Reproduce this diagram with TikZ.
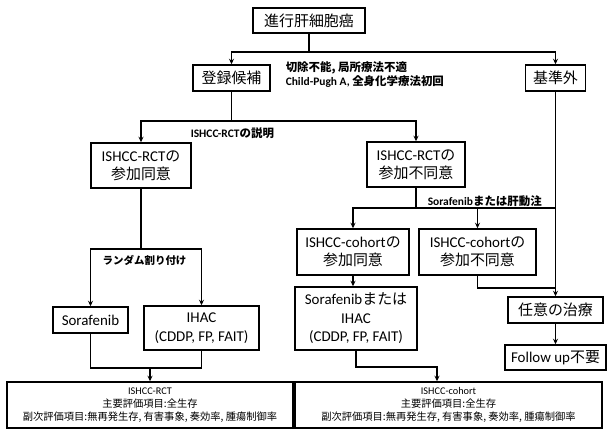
\documentclass[tikz,border=0pt]{standalone}
\usepackage{fontspec}
\setmainfont{Carlito}
\newfontfamily\jpf{Noto Sans CJK JP}
\newcommand\jp[1]{{\jpf #1}}
\usetikzlibrary{arrows.meta}
\begin{document}
\begin{tikzpicture}[x=1bp,y=-1bp,line width=1.5pt,
  box/.style={draw,align=center,inner sep=0pt,font=\fontsize{15}{18.5}\selectfont},
  lab/.style={font=\fontsize{11.5}{13}\selectfont\bfseries,anchor=west,inner sep=0pt},
  res/.style={draw,align=center,inner sep=0pt,font=\fontsize{10.3}{12.8}\selectfont},
  arr/.style={-{Stealth[length=5.5pt,width=5pt]}}
]
\useasboundingbox (0,0) rectangle (607,430);
% boxes
\node[box,minimum width=112bp,minimum height=25bp] (top) at (309,20.5) {\jp{進行肝細胞癌}};
\node[box,minimum width=77bp,minimum height=26bp] (reg) at (231.5,78) {\jp{登録候補}};
\node[box,minimum width=60bp,minimum height=26bp] (exc) at (555.5,78) {\jp{基準外}};
\node[box,minimum width=100bp,minimum height=45bp] (rcty) at (141,165.5) {ISHCC-RCT\jp{の}\\\jp{参加同意}};
\node[box,minimum width=98bp,minimum height=45bp] (rctn) at (416,164.5) {ISHCC-RCT\jp{の}\\\jp{参加不同意}};
\node[box,minimum width=112bp,minimum height=46bp] (cohy) at (353,252) {ISHCC-cohort\jp{の}\\\jp{参加同意}};
\node[box,minimum width=117bp,minimum height=46bp] (cohn) at (477.5,252) {ISHCC-cohort\jp{の}\\\jp{参加不同意}};
\node[box,minimum width=75bp,minimum height=26bp] (sor) at (90.5,320) {Sorafenib};
\node[box,minimum width=115bp,minimum height=44bp] (ihac) at (201.5,328) {IHAC\\(CDDP, FP, FAIT)};
\node[box,minimum width=122bp,minimum height=63bp] (sorihac) at (356,318.5) {Sorafenib\jp{または}\\IHAC\\(CDDP, FP, FAIT)};
\node[box,minimum width=95bp,minimum height=26bp] (nini) at (555.5,310) {\jp{任意の治療}};
\node[box,minimum width=101bp,minimum height=25bp] (fu) at (555.5,357.5) {Follow up\jp{不要}};
\node[res,minimum width=286bp,minimum height=46bp] (resl) at (150,405) {ISHCC-RCT\\\jp{主要評価項目:全生存}\\\jp{副次評価項目:無再発生存, 有害事象, 奏効率, 腫瘍制御率}};
\node[res,minimum width=307bp,minimum height=46bp] (resr) at (448.5,405) {ISHCC-cohort\\\jp{主要評価項目:全生存}\\\jp{副次評価項目:無再発生存, 有害事象, 奏効率, 腫瘍制御率}};
% labels
\node[lab] (l1) at (285,68) {\jp{切除不能, 局所療法不適}};
\node[lab] (l2) at (285,82) {Child-Pugh A, \jp{全身化学療法初回}};
\node[lab] (l3) at (190,133) {ISHCC-RCT\jp{の説明}};
\node[lab,font=\fontsize{10.5}{13}\selectfont\bfseries] (l4) at (102,260) {\jp{ランダム割り付け}};
\node[lab] (l5) at (427,201) {Sorafenib\jp{または肝動注}};
% junctions
\coordinate (j1) at (309,52);
\coordinate (j2) at (231.5,121);
\coordinate (j3) at (141,249);
\coordinate (j4) at (150,368);
\coordinate (j5) at (416,208);
\coordinate (j7) at (477.5,288);
\coordinate (j9) at (437,367);
% connectors
\draw (top) -- (j1);
\draw[arr] (j1) -| (reg);
\draw[arr] (j1) -| (exc);
\draw (reg) -- (j2);
\draw[arr] (j2) -| (rcty);
\draw[arr] (j2) -| (rctn);
\draw (rcty) -- (j3);
\draw[arr] (j3) -| (sor);
\draw[arr] (j3) -| (ihac);
\draw (sor.south) |- (j4) -| (ihac.south);
\draw[arr] (j4) -- (j4 |- resl.north);
\draw (rctn) -- (j5);
\draw[arr] (j5) -| (cohy);
\draw[arr] (j5) -| (cohn);
\draw (j5) -- (exc.south |- j5);
\draw[arr] (exc) -- (nini);
\draw[arr] (cohy) -- (cohy.south |- sorihac.north);
\draw (cohn) -- (j7) -- (exc.south |- j7);
\draw[arr] (nini) -- (fu);
\draw[arr] (sorihac.south) |- (j9) -- (j9 |- resr.north);
\end{tikzpicture}
\end{document}
